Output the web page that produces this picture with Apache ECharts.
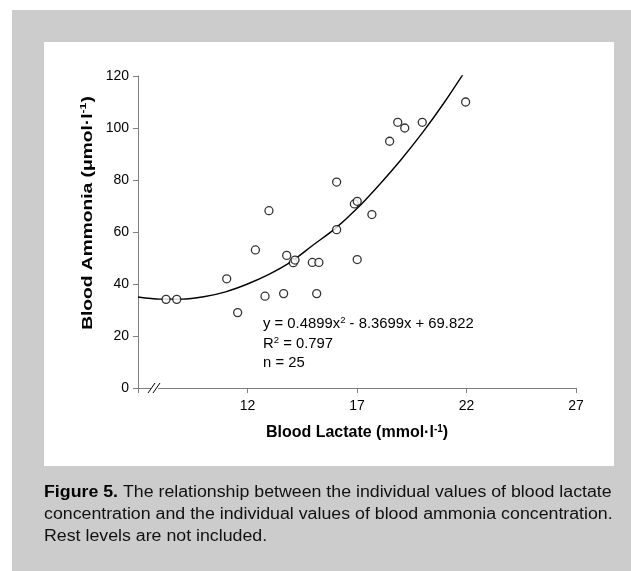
<!DOCTYPE html>
<html>
<head>
<meta charset="utf-8">
<script src="https://cdn.jsdelivr.net/npm/echarts@6/dist/echarts.min.js"></script>
<style>
  html, body { margin: 0; padding: 0; background: #fff; }
  #main { width: 631px; height: 571px; }
</style>
</head>
<body>
<div id="main"></div>
<script>
// blood lactate (mmol/l) vs blood ammonia (umol/l)
const lactate = [8.28, 8.77, 11.05, 11.55, 12.36, 12.80, 12.98, 13.65, 13.79, 14.09, 14.17, 14.96, 15.16,
  15.26, 16.07, 16.07, 16.88, 17.01, 17.01, 17.68, 18.49, 18.86, 19.18, 19.98, 21.96]
const ammonia = [34.1, 34.1, 42.0, 29.0, 53.1, 35.3, 68.2, 36.3, 51.0, 48.2, 49.2, 48.3, 36.3,
  48.3, 79.2, 60.9, 70.8, 71.8, 49.4, 66.7, 94.9, 102.2, 100.0, 102.2, 110.0]

// trend line as drawn in the figure
const trendX = [7, 8, 9, 10, 11, 12, 13, 14, 15, 16, 17, 18, 19, 20, 21, 22]
const trendY = [35, 34.2, 34.2, 35.1, 37, 40, 43.8, 48.6, 55, 61.3, 69, 78, 87.7, 98.3, 110, 122.7]

const xTicks = [12, 17, 22, 27]
const yTicks = [0, 20, 40, 60, 80, 100, 120]

const eqText = ['y = 0.4899x{sup|2} - 8.3699x + 69.822', 'R{sup|2} = 0.797', 'n = 25']
const caption = [
  '{b|Figure 5.} The relationship between the individual values of blood lactate',
  'concentration and the individual values of blood ammonia concentration.',
  'Rest levels are not included.'
]

const font = '"Liberation Sans", Arial, sans-serif'
const axisGrey = '#7f7f7f'

var chart = echarts.init(document.getElementById('main'))

var option = {
  animation: false,
  textStyle: { fontFamily: font },
  grid: { left: 138, right: 55, top: 76, bottom: 183 },
  xAxis: {
    type: 'value',
    min: 7,
    max: 27,
    interval: 5,
    splitLine: { show: false },
    axisLine: { lineStyle: { color: axisGrey, width: 1 } },
    axisTick: { length: 5, lineStyle: { color: axisGrey } },
    axisLabel: {
      color: '#000', fontSize: 14, margin: 11,
      formatter: v => xTicks.includes(v) ? String(v) : ''
    },
    name: '{b|Blood Lactate (mmol·l}{s|-1}{b|)}',
    nameLocation: 'middle',
    nameGap: 36,
    nameTextStyle: {
      rich: {
        b: { fontSize: 16, fontWeight: 'bold', color: '#000', fontFamily: font },
        s: { fontSize: 10, fontWeight: 'bold', color: '#000', verticalAlign: 'top', padding: [0, 0, 8, 0], fontFamily: font }
      }
    }
  },
  yAxis: {
    type: 'value',
    min: 0,
    max: 120,
    interval: 20,
    splitLine: { show: false },
    axisLine: { show: true, lineStyle: { color: axisGrey, width: 1 } },
    axisTick: { show: true, length: 5, lineStyle: { color: axisGrey } },
    axisLabel: {
      color: '#000', fontSize: 14, margin: 9,
      formatter: v => yTicks.includes(v) ? String(v) : ''
    }
  },
  graphic: [
    { type: 'rect', z: -10, shape: { x: 12, y: 10, width: 619, height: 561 }, style: { fill: '#cccccc' } },
    { type: 'rect', z: -9, shape: { x: 44, y: 42, width: 570, height: 424 }, style: { fill: '#ffffff' } },
    // axis break marks
    { type: 'rect', z: 100, shape: { x: 151, y: 385, width: 7, height: 6 }, style: { fill: '#fff' } },
    { type: 'line', z: 101, shape: { x1: 148, y1: 393, x2: 155, y2: 383 }, style: { stroke: '#000', lineWidth: 1 } },
    { type: 'line', z: 101, shape: { x1: 153, y1: 393, x2: 160, y2: 383 }, style: { stroke: '#000', lineWidth: 1 } },
    // y axis title, stretched like the original
    {
      type: 'text', z: 50, x: 88, y: 213, rotation: Math.PI / 2, scaleX: 1.37,
      style: {
        text: '{b|Blood Ammonia (μmol·l}{s|-1}{b|)}', align: 'center', verticalAlign: 'middle',
        rich: {
          b: { fontSize: 14, fontWeight: 'bold', fill: '#000', fontFamily: font },
          s: { fontSize: 9, fontWeight: 'bold', fill: '#000', padding: [0, 0, 8, 0], fontFamily: font }
        }
      }
    },
    // equation
    ...eqText.map((t, i) => ({
      type: 'text', z: 50, x: 263, y: 316 + i * 20, scaleX: 1.06,
      style: {
        text: t, fill: '#000', font: '14px ' + font,
        rich: { sup: { fontSize: 9, verticalAlign: 'top', padding: [0, 0, 7, 0], fill: '#000', fontFamily: font } }
      }
    })),
    // caption
    ...caption.map((t, i) => ({
      type: 'text', z: 50, x: 44, y: 485 + i * 22, scaleX: 1.11,
      style: {
        text: t, fill: '#111', font: '16px ' + font,
        rich: { b: { fontWeight: 'bold', fontSize: 16, fill: '#000', fontFamily: font } }
      }
    }))
  ],
  series: [
    {
      type: 'line',
      data: trendX.map((x, i) => [x, trendY[i]]),
      showSymbol: false,
      smooth: 0.3,
      lineStyle: { color: '#000', width: 1.4 },
      z: 2
    },
    {
      type: 'scatter',
      data: lactate.map((x, i) => [x, ammonia[i]]),
      symbol: 'circle',
      symbolSize: 8,
      itemStyle: { color: '#fff', borderColor: '#000', borderWidth: 1.3 },
      z: 3
    }
  ]
}
chart.setOption(option)
</script>
</body>
</html>
